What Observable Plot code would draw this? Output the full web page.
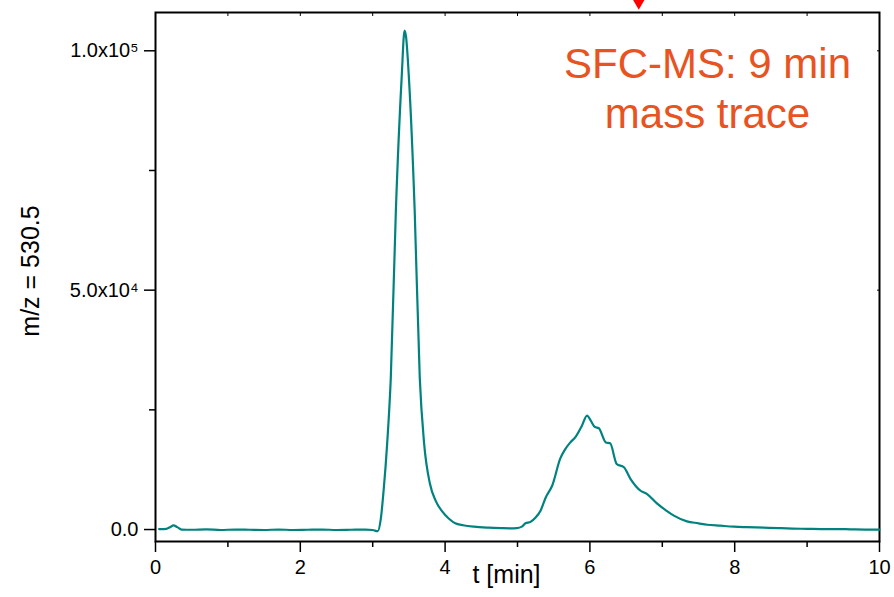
<!DOCTYPE html>
<html>
<head>
<meta charset="utf-8">
<script src="https://cdn.jsdelivr.net/npm/d3@7"></script>
<script src="https://cdn.jsdelivr.net/npm/@observablehq/plot@0.6"></script>
<style>
  html, body { margin: 0; padding: 0; background: #fff; }
</style>
</head>
<body>
<div id="chart"></div>
<script>
// retention time (min)
const times = [0.05, 0.15, 0.20, 0.25, 0.30, 0.36, 0.5, 0.7, 0.9, 1.1, 1.3, 1.5, 1.7, 1.9, 2.1, 2.3, 2.5, 2.7, 2.9, 3.0, 3.07,
  3.11, 3.15, 3.20, 3.25, 3.32, 3.40, 3.44, 3.46, 3.50, 3.58, 3.65, 3.71, 3.79, 3.87, 3.96, 4.05, 4.14, 4.25, 4.4, 4.6,
  4.77, 4.9, 4.99, 5.06, 5.11, 5.18, 5.25, 5.32, 5.39, 5.48, 5.59, 5.66, 5.73, 5.80, 5.89, 5.96, 6.01, 6.07, 6.12,
  6.22, 6.28, 6.37, 6.47, 6.56, 6.70, 6.79, 6.93, 7.05, 7.16, 7.34, 7.5, 7.62, 7.8, 7.99, 8.17, 8.4, 8.6, 8.8, 9.0,
  9.2, 9.4, 9.6, 9.8, 10.0];
// m/z 530.5 intensity (counts)
const intensity = [100, 150, 500, 850, 500, 0, -50, 50, -100, 0, -50, -100, 0, -100, -50, 0, -100, -50, 0, -100, -350,
  2000, 8000, 18000, 31700, 66600, 94400, 104200, 103000, 94400, 66600, 31700, 18000, 9600, 6000, 3800, 2300, 1300, 900, 600, 400,
  300, 250, 300, 600, 1300, 1600, 2500, 4000, 6700, 9200, 14800, 16800, 18200, 19300, 21700, 23800, 22800, 21400, 21200,
  18200, 18000, 13700, 13000, 10600, 8100, 7400, 5400, 4000, 2900, 1700, 1300, 1000, 800, 600, 500, 400, 300, 200, 150,
  100, 100, 50, 0, 0];

const xMajor = [0, 2, 4, 6, 8, 10];
const xMinor = [1, 3, 5, 7, 9];
const xAll = [0, 1, 2, 3, 4, 5, 6, 7, 8, 9, 10];
const yMajor = [0, 50000, 100000];
const yMajorLabels = ["0.0", "5.0x10\u2074", "1.0x10\u2075"];
const yMinor = [25000, 75000];
const markerTimes = [6.675];
const annotation = ["SFC-MS: 9 min\nmass trace"];
const xLabel = ["t [min]"];
const yLabel = ["m/z = 530.5"];

const data = times.map((t, i) => ({t, v: intensity[i]}));
const teal = "#00837f";

const chart = Plot.plot({
  width: 894,
  height: 597,
  marginLeft: 155,
  marginRight: 15,
  marginTop: 12,
  marginBottom: 56,
  style: {fontFamily: "'Liberation Sans', Arial, sans-serif", fontSize: "20px", color: "#000", background: "#fff", overflow: "visible"},
  x: {domain: [0, 10]},
  y: {domain: [-2500, 108000]},
  marks: [
    Plot.axisX(xMajor, {tickSize: 11, tickPadding: 7, strokeWidth: 1.5, tickFormat: d => String(d), label: null, fontSize: 20}),
    Plot.axisX(xMinor, {tickSize: 6, strokeWidth: 1.5, tickFormat: () => "", label: null}),
    Plot.axisX(xAll, {anchor: "top", tickSize: -3, strokeWidth: 1, tickFormat: () => "", label: null}),
    Plot.axisY(yMajor, {tickSize: 11, tickPadding: 6, strokeWidth: 1.5, tickFormat: (d, i) => yMajorLabels[yMajor.indexOf(d)], label: null, fontSize: 20}),
    Plot.axisY(yMinor, {tickSize: 6, strokeWidth: 1.5, tickFormat: () => "", label: null}),
    Plot.axisY(yMajor, {anchor: "right", tickSize: -3, strokeWidth: 1, tickFormat: () => "", label: null}),
    Plot.frame({stroke: "#000", strokeWidth: 2}),
    Plot.line(data, {x: "t", y: "v", stroke: teal, strokeWidth: 2.2, curve: "monotone-x"}),
    Plot.text(annotation, {frameAnchor: "top", lineAnchor: "top", dx: 190, dy: 30, fontSize: 42, lineHeight: 1.19, fill: "#e8531f"}),
    Plot.dot(markerTimes, {x: d => d, frameAnchor: "top", dy: -12, symbol: "triangle", rotate: 180, r: 6, fill: "#ff0000", stroke: "none"}),
    Plot.text(xLabel, {frameAnchor: "bottom", dx: -11, dy: 41, fontSize: 25}),
    Plot.text(yLabel, {frameAnchor: "left", textAnchor: "middle", rotate: -90, dx: -125, dy: -6, fontSize: 25})
  ]
});
document.getElementById("chart").appendChild(chart);
</script>
</body>
</html>
